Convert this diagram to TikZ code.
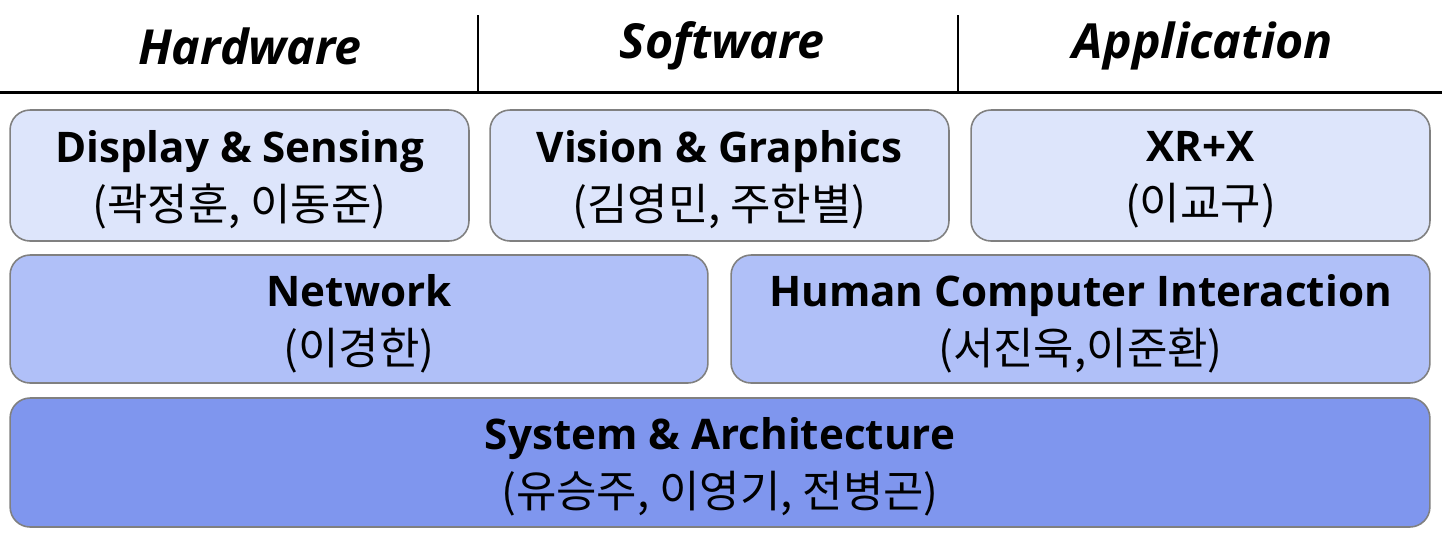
\documentclass[tikz,border=0pt]{standalone}
\usepackage{fontspec}
\setmainfont{Open Sans}
\newfontfamily\kr{Noto Sans CJK KR}
\definecolor{rowA}{HTML}{DDE5FB}
\definecolor{rowB}{HTML}{B0C0F8}
\definecolor{rowC}{HTML}{7F96EE}
\definecolor{edge}{HTML}{808080}
\newcommand{\names}[1]{{\kr\fontsize{25}{33}\selectfont #1}}
\begin{document}
\begin{tikzpicture}[x=0.02cm, y=-0.02cm,
    area/.style={draw=edge, line width=0.9pt, rounded corners=0.4cm, align=center, inner sep=0pt,
      font=\fontsize{24}{33}\selectfont, text depth=-2pt},
    head/.style={font=\fontsize{27.5}{30}\selectfont\bfseries\itshape}]
  \useasboundingbox (0,0) rectangle (1442,542);
  % header
  \node[head] (hw) at (250,46) {Hardware};
  \node[head] (sw) at (722,46) {Software};
  \node[head] (app) at (1203,46) {Application};
  \draw[line width=1.2pt] (478,15) -- (478,92);
  \draw[line width=1.2pt] (958,15) -- (958,92);
  \draw[line width=1.7pt] (0,92) -- (1442,92);
  % first row
  \node[area, fill=rowA, minimum width=9.18cm, minimum height=2.62cm] (disp) at (239.5,175.5)
    {\textbf{Display \& Sensing}\\\names{(곽정훈, 이동준)}};
  \node[area, fill=rowA, minimum width=9.18cm, minimum height=2.62cm] (vis) at (719.5,175.5)
    {\textbf{Vision \& Graphics}\\\names{(김영민, 주한별)}};
  \node[area, fill=rowA, minimum width=9.18cm, minimum height=2.62cm] (xr) at (1200.5,175.5)
    {\textbf{XR+X}\\\names{(이교구)}};
  % second row
  \node[area, fill=rowB, minimum width=13.96cm, minimum height=2.56cm] (net) at (359,319)
    {\textbf{Network}\\\names{(이경한)}};
  \node[area, fill=rowB, minimum width=13.98cm, minimum height=2.56cm] (hci) at (1080.5,319)
    {\textbf{Human Computer Interaction}\\\names{(서진욱,이준환)}};
  % base
  \node[area, fill=rowC, minimum width=28.4cm, minimum height=2.58cm] (sys) at (720,462.5)
    {\textbf{System \& Architecture}\\\names{(유승주, 이영기, 전병곤)}};
\end{tikzpicture}
\end{document}
